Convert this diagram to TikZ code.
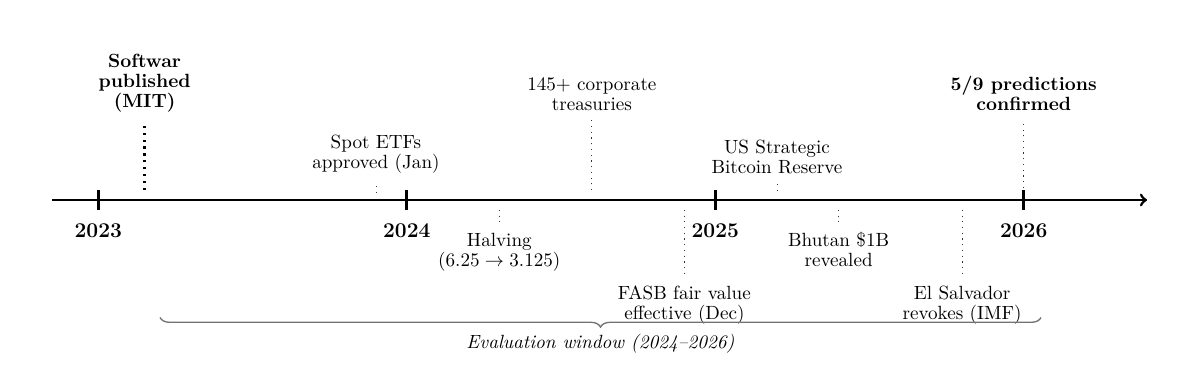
\documentclass[tikz,border=0pt]{standalone}
\usepackage{fontspec}
\usetikzlibrary{positioning, decorations.pathreplacing}

\begin{document}
\begin{tikzpicture}[%
  x = 5.67cm, y = 1cm,
  node distance = 1.5pt,
  axis/.style =    {line width=1.4pt, ->},
  tick/.style =    {line width=1.4pt},
  year/.style =    {font=\fontsize{11}{13}\selectfont\bfseries},
  event/.style =   {align=center, font=\fontsize{10}{10.4}\selectfont},
  keyev/.style =   {align=center, font=\fontsize{10}{10.4}\selectfont\bfseries},
  evline/.style =  {line width=.4pt, black!80, dash pattern=on .6pt off 2.4pt,
                    shorten >=1.5pt},
  keyline/.style = {line width=1.2pt, dash pattern=on 1.2pt off 2.4pt,
                    shorten >=1.5pt},
  window/.style =  {decorate, decoration={brace, mirror, amplitude=5pt},
                    draw=black!55, line width=.7pt}
]

  \useasboundingbox (-1.807cm,-3.088cm) rectangle (20.25cm,3.676cm);

  % time axis
  \coordinate (start) at (-.15,0);
  \coordinate (end) at (3.4,0);
  \draw[axis] (start) -- (end);

  \draw[tick] (0,-.18) -- (0,.18);
  \draw[tick] (1,-.18) -- (1,.18);
  \draw[tick] (2,-.18) -- (2,.18);
  \draw[tick] (3,-.18) -- (3,.18);

  \node[year] (y2023) at (0,-.57) {2023};
  \node[year] (y2024) at (1,-.57) {2024};
  \node[year] (y2025) at (2,-.57) {2025};
  \node[year] (y2026) at (3,-.57) {2026};

  % events above the axis
  \coordinate (sw-a) at (.15,.184);
  \coordinate (sw-b) at (.15,1.44);
  \node[keyev, above=of sw-b] (sw) {Softwar\\published\\(MIT)};

  \coordinate (etf-a) at (.9,.13);
  \coordinate (etf-b) at (.9,.31);
  \node[event, above=of etf-b] (etf) {Spot ETFs\\approved (Jan)};

  \coordinate (tr-a) at (1.6,.18);
  \coordinate (tr-b) at (1.6,1.47);
  \node[event, above=of tr-b] (tr) {145+ corporate\\treasuries};

  \coordinate (sbr-a) at (2.2,.165);
  \coordinate (sbr-b) at (2.2,.31);
  \node[event, above=of sbr-b] (sbr) {US Strategic\\Bitcoin Reserve};

  \coordinate (cf-a) at (3,.22);
  \coordinate (cf-b) at (3,1.47);
  \node[keyev, above=of cf-b] (cf) {5/9 predictions\\confirmed};

  % events below the axis
  \coordinate (hv-a) at (1.3,-.18);
  \coordinate (hv-b) at (1.3,-.44);
  \node[event, below=of hv-b] (hv) {Halving\\($6.25 \rightarrow 3.125$)};

  \coordinate (fasb-a) at (1.9,-.18);
  \coordinate (fasb-b) at (1.9,-1.40);
  \node[event, below=of fasb-b] (fasb) {FASB fair value\\effective (Dec)};

  \coordinate (bt-a) at (2.4,-.18);
  \coordinate (bt-b) at (2.4,-.42);
  \node[event, below=of bt-b] (bt) {Bhutan \$1B\\revealed};

  \coordinate (es-a) at (2.8,-.18);
  \coordinate (es-b) at (2.8,-1.40);
  \node[event, below=of es-b] (es) {El Salvador\\revokes (IMF)};

  % Connections
  \draw[keyline] (sw-a) -- (sw);
  \draw[evline] (etf-a) -- (etf);
  \draw[evline] (tr-a) -- (tr);
  \draw[evline] (sbr-a) -- (sbr);
  \draw[evline] (cf-a) -- (cf);
  \draw[evline] (hv-a) -- (hv);
  \draw[evline] (fasb-a) -- (fasb);
  \draw[evline] (bt-a) -- (bt);
  \draw[evline] (es-a) -- (es);

  % evaluation window
  \coordinate (w0) at (.2,-2.16);
  \coordinate (w1) at (3.056,-2.16);
  \draw[window] (w0) -- (w1)
        node[midway, below=5pt, font=\itshape] (win)
             {Evaluation window (2024--2026)};

\end{tikzpicture}
\end{document}
